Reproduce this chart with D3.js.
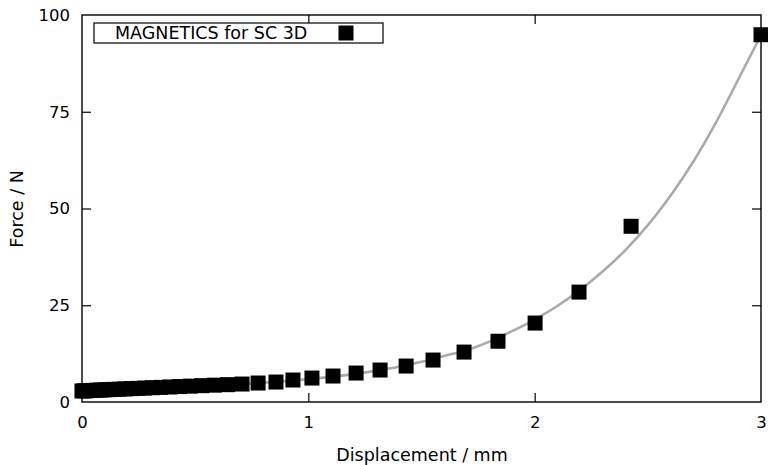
<!DOCTYPE html>
<html>
<head>
<meta charset="utf-8">
<script src="https://cdn.jsdelivr.net/npm/d3@7"></script>
<style>
  body { margin: 0; background: #fff; }
  text { font-family: "DejaVu Sans", sans-serif; fill: #000; }
</style>
</head>
<body>
<svg id="chart"></svg>
<script>
// measured points: displacement (mm) and force (N)
const dispMM = [0.0, 0.010, 0.022, 0.036, 0.050, 0.066, 0.083, 0.101, 0.121, 0.142,
    0.165, 0.190, 0.217, 0.246, 0.277, 0.311, 0.348, 0.388, 0.431, 0.478,
    0.529, 0.584, 0.643, 0.707, 0.778, 0.857, 0.932, 1.016, 1.109, 1.211,
    1.317, 1.432, 1.551, 1.688, 1.838, 2.002, 2.196, 2.426, 3.0];
const forceN = [2.85, 2.88, 2.92, 2.96, 3.0, 3.05, 3.1, 3.15, 3.2, 3.26,
    3.32, 3.38, 3.45, 3.52, 3.6, 3.69, 3.78, 3.88, 3.99, 4.1,
    4.22, 4.35, 4.48, 4.64, 4.9, 5.16, 5.68, 6.19, 6.71, 7.48,
    8.26, 9.29, 10.84, 12.9, 15.7, 20.4, 28.4, 45.4, 94.9];

// fitted curve
const fitX = [0, 0.1, 0.2, 0.3, 0.4, 0.5, 0.6, 0.7, 0.8, 0.9, 1.0, 1.1, 1.2, 1.3, 1.4,
    1.5, 1.6, 1.7, 1.8, 1.9, 2.0, 2.1, 2.2, 2.3, 2.4, 2.5, 2.6, 2.7, 2.8, 2.9, 3.0];
const fitY = [2.9, 3.1, 3.3, 3.5, 3.75, 4.0, 4.3, 4.6, 5.0, 5.4, 5.9, 6.5, 7.2, 8.1, 9.1,
    10.4, 11.9, 13.4, 15.6, 18.3, 21.3, 24.8, 28.9, 33.7, 39.2, 45.7, 53.3, 62.0, 72.1, 83.4, 94.8];

const xTicks = [0, 1, 2, 3];
const yTicks = [0, 25, 50, 75, 100];
const seriesName = "MAGNETICS for SC 3D";

const W = 768, H = 465;
const mLeft = 82, mRight = 761, mTop = 15, mBottom = 402;
const tickLen = 9;

const svg = d3.select("#chart").attr("width", W).attr("height", H);

const x = d3.scaleLinear().domain([0, 3]).range([mLeft, mRight]);
const y = d3.scaleLinear().domain([0, 100]).range([mBottom, mTop]);

// axes with inward ticks on all four sides
const axBottom = svg.append("g").attr("transform", `translate(0,${mBottom})`)
    .call(d3.axisBottom(x).tickValues(xTicks).tickFormat(d3.format("d"))
        .tickSizeInner(-tickLen).tickSizeOuter(0).tickPadding(14));
const axTop = svg.append("g").attr("transform", `translate(0,${mTop})`)
    .call(d3.axisTop(x).tickValues(xTicks).tickFormat("")
        .tickSizeInner(-tickLen).tickSizeOuter(0));
const axLeft = svg.append("g").attr("transform", `translate(${mLeft},0)`)
    .call(d3.axisLeft(y).tickValues(yTicks).tickFormat(d3.format("d"))
        .tickSizeInner(-tickLen).tickSizeOuter(0).tickPadding(12));
const axRight = svg.append("g").attr("transform", `translate(${mRight},0)`)
    .call(d3.axisRight(y).tickValues(yTicks).tickFormat("")
        .tickSizeInner(-tickLen).tickSizeOuter(0));

[axBottom, axTop, axLeft, axRight].forEach(g => {
    g.select(".domain").remove();
    g.selectAll("line").attr("stroke", "#000").attr("stroke-width", 1.2);
    g.selectAll("text").attr("font-size", "16.5px").attr("font-family", "DejaVu Sans, sans-serif");
});
axBottom.selectAll(".tick").filter(d => d === 0 || d === 3).select("line").remove();
axTop.selectAll(".tick").filter(d => d === 0 || d === 3).select("line").remove();
axLeft.selectAll(".tick").filter(d => d === 0 || d === 100).select("line").remove();
axRight.selectAll(".tick").filter(d => d === 0 || d === 100).select("line").remove();

svg.append("rect")
    .attr("x", mLeft).attr("y", mTop)
    .attr("width", mRight - mLeft).attr("height", mBottom - mTop)
    .attr("fill", "none").attr("stroke", "#000").attr("stroke-width", 1.4);

// fit line
const lineFun = d3.line()
    .x((d, i) => x(fitX[i]))
    .y(d => y(d))
    .curve(d3.curveCatmullRom);
svg.append("path")
    .attr("d", lineFun(fitY))
    .attr("stroke", "#aaaaaa")
    .attr("stroke-width", 2.6)
    .attr("fill", "none");

// square markers
const sq = 15;
svg.selectAll("rect.pt")
    .data(dispMM)
    .enter()
    .append("rect")
    .attr("class", "pt")
    .attr("x", d => x(d) - sq / 2)
    .attr("y", (d, i) => y(forceN[i]) - sq / 2)
    .attr("width", sq)
    .attr("height", sq)
    .attr("fill", "#000");

// legend
svg.append("rect")
    .attr("x", 94).attr("y", 23).attr("width", 289).attr("height", 20)
    .attr("fill", "#fff").attr("stroke", "#000").attr("stroke-width", 1.2);
svg.append("text")
    .attr("x", 115).attr("y", 39)
    .attr("font-size", "17.5px")
    .text(seriesName);
svg.append("rect")
    .attr("x", 346 - sq / 2).attr("y", 33 - sq / 2)
    .attr("width", sq).attr("height", sq)
    .attr("fill", "#000");

// axis titles
svg.append("text")
    .attr("x", 422).attr("y", 461)
    .attr("text-anchor", "middle")
    .attr("font-size", "17.5px")
    .text("Displacement / mm");
svg.append("text")
    .attr("transform", "translate(23,209) rotate(-90)")
    .attr("text-anchor", "middle")
    .attr("font-size", "17.5px")
    .text("Force / N");
</script>
</body>
</html>
